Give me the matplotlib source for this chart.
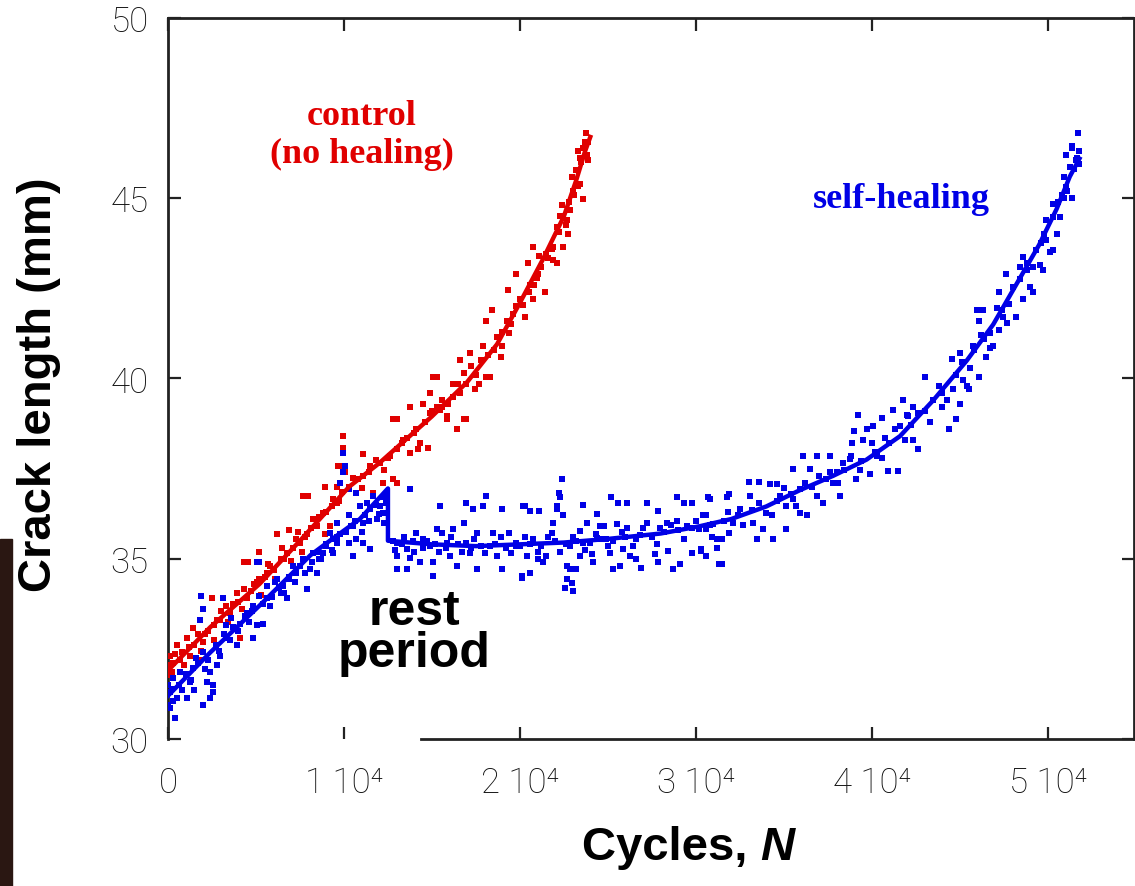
import matplotlib.pyplot as plt
from matplotlib.patches import Rectangle

# cycles are in thousands, crack length in mm
ctrl_pts = [
    (0.0, 32.04), (0.1, 32.3), (0.5, 32.6), (0.0, 31.77), (0.7, 32.2), (1.06, 32.8),
    (1.4, 33.07), (1.25, 32.3), (1.8, 32.2), (2.0, 32.7), (2.6, 33.15), (2.5, 33.9),
    (2.95, 33.3), (3.3, 33.7), (4.1, 32.8), (3.9, 34.06), (4.5, 33.9), (4.3, 34.17),
    (5.05, 34.35), (5.2, 34.45), (4.3, 34.9), (4.55, 34.9), (5.2, 35.2), (5.6, 34.6),
    (5.8, 34.8), (6.2, 35.7), (6.4, 35.0), (6.9, 35.8), (6.75, 35.17), (7.3, 35.55),
    (7.5, 35.44), (7.9, 35.7), (7.95, 36.74), (7.7, 36.74), (8.25, 36.1), (8.45, 35.9),
    (8.8, 36.27), (8.9, 37.0), (9.4, 36.65), (9.6, 37.0), (9.65, 37.57), (9.2, 35.9),
    (9.95, 38.4), (9.95, 38.07), (9.8, 37.57), (10.05, 37.4), (9.6, 36.55), (10.3, 37.0),
    (11.1, 37.9), (11.1, 37.3), (11.5, 37.57), (11.65, 36.82), (12.05, 37.65), (12.2, 37.1),
    (12.8, 37.2), (12.6, 37.85), (13.0, 38.04), (13.0, 38.87), (12.8, 38.87), (13.35, 38.3),
    (13.75, 37.93), (13.75, 39.2), (14.1, 38.6), (14.3, 38.2), (14.8, 38.07), (14.9, 39.03),
    (15.3, 39.2), (15.6, 39.4), (15.85, 38.87), (16.4, 38.6), (16.8, 38.87), (16.2, 39.86),
    (16.6, 39.6), (16.95, 39.86), (18.1, 40.05), (15.3, 40.05), (13.0, 37.1),
    (15.05, 40.05), (14.5, 39.3), (14.9, 39.6), (15.45, 39.14), (15.85, 38.95),
    (16.95, 38.87), (16.6, 40.5), (16.8, 40.15), (17.15, 40.7), (17.45, 39.7), (17.7, 39.86),
    (17.9, 40.9), (18.3, 40.05), (18.1, 41.6), (18.4, 41.9), (18.7, 41.16), (19.0, 40.9),
    (18.9, 40.6), (19.25, 41.6), (19.4, 41.25), (19.3, 42.46), (19.8, 42.0), (20.0, 42.2),
    (20.3, 41.7), (20.6, 42.6), (20.75, 42.2), (19.8, 42.9), (20.95, 42.8), (21.4, 42.4),
    (20.45, 43.2), (20.75, 43.65), (21.1, 43.4), (21.5, 43.45), (21.9, 43.3), (22.1, 43.2),
    (21.9, 43.65), (22.45, 43.65), (22.1, 44.2), (22.3, 44.5), (22.65, 44.4), (22.75, 44.0),
    (22.4, 44.8), (22.85, 44.67), (23.0, 45.2), (22.95, 45.58), (23.4, 45.4), (23.6, 44.97),
    (23.2, 45.77), (23.4, 46.13), (23.8, 46.2), (23.3, 46.3), (23.85, 46.55), (23.75, 46.8),
    (23.6, 46.4), (23.85, 46.05),
    (0.3, 32.1), (0.8, 32.4), (1.5, 32.6), (2.1, 32.9), (2.8, 33.3), (3.5, 33.5),
    (4.0, 33.8), (4.7, 34.1), (5.5, 34.5), (6.0, 34.7), (6.6, 35.0), (7.1, 35.3),
    (7.8, 35.6), (8.4, 35.9), (9.0, 36.3), (9.7, 36.6), (10.8, 37.2), (11.4, 37.4),
    (12.5, 37.8), (13.3, 38.2), (14.0, 38.5), (14.6, 38.8), (15.6, 39.2), (16.2, 39.5),
    (17.5, 40.1), (18.5, 40.8), (19.5, 41.5), (20.5, 42.4), (21.0, 42.9), (21.8, 43.6),
    (22.8, 44.9), (23.5, 46.0),
    (0.2, 31.85), (0.4, 32.35), (0.9, 32.05), (1.2, 32.55), (1.7, 32.9), (1.9, 32.45),
    (2.3, 33.0), (2.6, 32.75), (3.0, 33.55), (3.4, 33.25), (3.7, 33.75), (4.2, 33.6),
    (4.9, 34.3), (5.3, 34.0), (5.7, 34.85), (6.1, 34.45), (6.5, 35.3), (7.0, 34.95),
    (7.4, 35.75), (7.6, 35.2), (8.1, 35.85), (8.6, 36.15), (8.9, 35.7), (9.3, 36.45),
    (9.9, 36.85), (10.5, 37.25), (11.0, 36.95), (11.8, 37.75), (12.3, 37.45), (13.6, 38.35),
    (14.2, 38.05), (15.0, 39.1), (15.9, 39.3), (16.5, 39.85), (17.2, 40.35), (17.8, 40.5),
    (18.2, 40.65), (19.0, 41.3), (19.6, 41.8), (20.2, 42.05), (20.8, 42.6), (21.2, 43.1),
    (21.6, 43.35), (22.2, 44.05), (22.6, 44.25), (23.1, 45.1), (23.3, 45.35), (23.7, 46.55),
]

heal_pts = [
    # before the rest period
    (0.4, 30.58), (0.0, 30.94), (0.1, 31.3), (0.3, 31.68), (0.0, 31.5), (0.7, 31.85),
    (0.5, 31.13), (1.1, 31.13), (1.25, 31.57), (1.4, 31.96), (1.6, 32.24), (2.0, 32.4),
    (2.2, 31.57), (2.4, 31.13), (2.4, 31.85), (2.55, 31.3), (2.8, 32.04), (2.0, 33.6),
    (1.8, 33.3), (1.9, 33.97), (3.1, 33.9), (2.95, 32.3), (3.3, 32.8), (3.3, 33.15),
    (3.9, 32.6), (4.1, 33.2), (4.5, 33.5), (4.85, 32.8), (5.05, 33.15), (5.4, 33.2),
    (4.85, 33.7), (5.2, 33.97), (5.6, 34.25), (5.8, 33.7), (6.4, 34.06), (6.2, 34.45),
    (6.55, 34.25), (6.75, 33.9), (6.9, 34.45), (7.1, 34.8), (7.3, 34.6), (7.7, 35.0),
    (7.9, 34.17), (8.07, 34.72), (8.25, 35.17), (8.45, 34.6), (8.6, 35.0), (8.8, 35.17),
    (9.0, 35.36), (9.4, 35.55), (5.05, 34.9), (5.2, 34.9), (2.55, 31.5), (2.0, 30.94),
    (9.95, 37.93), (10.05, 37.57), (9.95, 37.4), (9.8, 37.1), (10.3, 36.93), (10.7, 36.82),
    (10.9, 36.46), (11.3, 36.55), (11.5, 36.38), (11.65, 36.74), (12.05, 36.46), (12.2, 36.27),
    (11.85, 36.1), (11.1, 35.99), (10.5, 35.9), (10.3, 36.2), (9.6, 35.99), (10.7, 35.55),
    (11.1, 35.44), (10.3, 35.44), (9.6, 35.44), (9.2, 35.72), (9.4, 35.17), (10.5, 35.08),
    (11.5, 35.27),
    (0.2, 31.4), (0.6, 31.5), (1.0, 31.8), (1.7, 32.1), (2.7, 32.6), (3.2, 32.9),
    (3.7, 33.1), (4.4, 33.4), (5.6, 33.9), (6.3, 34.2), (6.9, 34.5), (7.5, 34.8),
    (8.5, 35.2), (9.0, 35.4), (9.8, 35.7), (10.4, 35.9), (11.2, 36.2), (11.8, 36.5),
    (12.2, 36.7),
    (0.1, 30.85), (0.3, 31.05), (0.8, 31.35), (1.3, 31.65), (1.5, 31.35), (2.1, 31.95),
    (2.3, 32.2), (2.9, 32.45), (3.5, 32.75), (3.6, 33.35), (4.0, 33.0), (4.6, 33.25),
    (4.8, 33.55), (5.4, 33.75), (5.9, 33.95), (6.1, 34.35), (6.6, 34.05), (7.2, 34.35),
    (7.8, 34.6), (8.2, 34.9), (8.7, 35.0), (9.3, 35.25), (9.6, 35.6), (10.1, 35.75),
    (10.6, 36.05), (11.0, 35.75), (11.4, 36.05), (12.0, 36.25), (12.3, 36.0), (12.4, 36.55),
    # after the rest period
    (13.75, 36.93), (13.0, 35.44), (13.6, 35.27), (13.0, 35.08), (13.75, 35.03), (14.1, 35.72),
    (14.5, 35.55), (14.9, 35.36), (14.3, 34.9), (13.6, 34.72), (13.0, 34.72), (15.05, 34.9),
    (15.45, 36.46), (15.3, 35.83), (15.6, 35.72), (15.85, 35.44), (16.0, 35.08), (16.2, 35.83),
    (16.4, 34.8), (16.8, 35.99), (16.95, 36.55), (16.95, 35.44), (17.15, 35.17), (17.35, 36.38),
    (17.55, 35.72), (17.9, 36.46), (18.1, 36.74), (18.3, 35.36), (18.45, 35.72), (18.7, 35.08),
    (19.0, 36.38), (19.0, 34.72), (19.4, 35.72), (19.8, 35.36), (20.2, 36.46), (20.1, 34.53),
    (17.55, 34.72), (15.05, 34.53),
    (22.4, 37.2), (22.2, 36.82), (22.3, 36.7), (22.1, 36.46), (22.1, 36.38), (22.45, 36.2),
    (21.9, 36.0), (20.3, 36.46), (20.6, 36.33), (21.1, 36.33), (23.6, 36.5), (24.4, 36.25),
    (25.2, 36.7), (25.6, 36.55), (26.1, 36.55), (27.2, 36.55), (27.85, 36.33), (28.9, 36.7),
    (29.3, 36.55), (29.8, 36.55), (30.7, 36.7),
    (20.4, 35.08), (21.0, 35.0), (21.3, 34.9), (20.6, 34.6), (20.1, 34.47), (21.5, 35.08),
    (22.7, 34.8), (22.85, 34.72), (23.2, 34.72), (22.7, 34.45), (22.95, 34.34), (22.55, 34.2),
    (23.0, 34.1), (23.4, 35.08), (24.1, 35.14), (24.15, 34.9), (25.1, 35.17), (25.3, 34.72),
    (25.7, 34.8), (25.85, 35.27), (26.25, 35.08), (26.6, 35.0), (26.9, 34.75), (27.65, 35.14),
    (27.85, 34.9), (28.4, 35.22), (28.7, 34.72), (29.1, 34.86), (29.8, 35.17), (30.3, 35.22),
    (30.6, 35.08), (31.2, 35.55), (31.3, 34.86),
    (20.0, 35.36), (20.75, 35.55), (21.8, 35.72), (23.4, 35.77), (23.8, 35.99), (23.6, 35.44),
    (24.55, 35.9), (24.8, 35.9), (25.5, 35.97), (26.1, 35.86), (26.6, 35.55), (27.2, 35.99),
    (27.95, 35.86), (28.35, 35.99), (28.9, 36.05), (29.5, 35.9), (30.2, 35.83), (30.6, 36.2),
    (30.95, 35.97), (22.85, 35.36), (24.9, 35.55), (24.4, 35.58),
    (30.4, 36.2), (30.6, 35.83), (30.3, 35.27), (31.5, 34.86), (31.2, 35.3), (31.5, 35.55),
    (31.9, 35.72), (32.1, 35.99), (30.8, 36.65), (31.75, 36.7), (31.9, 36.8), (32.5, 36.38),
    (33.1, 36.74), (33.0, 37.13), (33.6, 37.13), (33.25, 35.99), (33.45, 35.55), (33.8, 35.83),
    (34.0, 36.27), (34.4, 35.55), (34.2, 37.07), (34.6, 37.07), (34.8, 36.74), (35.15, 35.83),
    (35.15, 36.46), (35.5, 37.49), (35.5, 36.65), (35.9, 36.27), (35.9, 36.93), (36.1, 37.85),
    (36.3, 36.2), (36.5, 37.49), (36.9, 37.85), (37.0, 37.3), (37.2, 36.55), (37.6, 37.85),
    (37.8, 37.1), (38.0, 37.4), (38.2, 36.74), (38.35, 37.65), (38.75, 37.76), (38.9, 38.2),
    (39.0, 38.54), (39.1, 37.2), (39.2, 39.0), (39.5, 38.3), (39.7, 38.6), (39.9, 37.35),
    (40.05, 38.68), (40.3, 37.85), (40.55, 38.9), (40.75, 38.35), (40.9, 37.43), (41.2, 39.14),
    (41.5, 37.43), (41.6, 38.68), (41.8, 39.4), (42.05, 38.95), (42.35, 39.2), (42.6, 38.04),
    (42.35, 38.3),
    (42.0, 39.0), (43.0, 40.05), (43.5, 39.4), (44.0, 39.2), (44.4, 38.6), (45.0, 39.3),
    (44.8, 38.87), (44.6, 39.7), (44.55, 40.55), (45.2, 39.97), (45.4, 39.8), (45.55, 39.7),
    (46.1, 40.05), (45.0, 40.7), (45.75, 40.9), (46.5, 40.6), (46.9, 40.9), (46.7, 41.25),
    (46.1, 41.6), (45.95, 41.9), (46.3, 41.9), (47.25, 41.35), (47.45, 41.7), (47.8, 42.07),
    (48.2, 41.7), (47.25, 42.4), (48.6, 42.2), (49.15, 42.4), (47.65, 42.9), (48.0, 42.54),
    (48.4, 43.1), (48.6, 43.37), (48.8, 43.2), (49.15, 43.1), (49.55, 43.15), (49.7, 43.0),
    (50.3, 43.56), (49.35, 43.56), (49.9, 43.84), (49.9, 44.4), (50.3, 44.47), (50.5, 44.0),
    (50.7, 44.47), (50.3, 44.84), (50.9, 45.0), (51.4, 45.0), (50.9, 45.58), (51.05, 45.3),
    (51.25, 45.86), (51.05, 46.2), (51.4, 46.4), (51.8, 46.3), (51.8, 45.94), (51.7, 46.8),
    (51.35, 46.46), (51.65, 46.13),
    (12.8, 35.5), (13.3, 35.4), (13.9, 35.5), (14.5, 35.3), (15.2, 35.4), (15.8, 35.3),
    (16.5, 35.4), (17.2, 35.3), (17.8, 35.35), (18.6, 35.4), (19.2, 35.3), (19.8, 35.45),
    (20.6, 35.4), (21.2, 35.35), (22.0, 35.5), (22.6, 35.4), (23.2, 35.5), (24.0, 35.45),
    (24.6, 35.55), (25.3, 35.5), (26.0, 35.6), (26.8, 35.65), (27.5, 35.6), (28.2, 35.75),
    (29.0, 35.8), (29.8, 35.85), (30.8, 35.95), (31.6, 36.05), (32.4, 36.2), (33.2, 36.35),
    (34.6, 36.6), (35.4, 36.8), (36.6, 37.0), (37.4, 37.2), (38.4, 37.45), (39.4, 37.7),
    (40.2, 37.95), (41.0, 38.2), (42.2, 38.7), (43.0, 39.1), (44.0, 39.6), (44.8, 40.1),
    (45.8, 40.8), (46.4, 41.1), (47.4, 41.9), (48.8, 43.0), (49.8, 44.0), (50.8, 45.1),
    (51.5, 45.8),
    (12.9, 35.25), (13.4, 35.6), (14.0, 35.2), (14.7, 35.5), (15.4, 35.2), (16.1, 35.6),
    (16.7, 35.2), (17.4, 35.55), (18.0, 35.15), (18.9, 35.6), (19.5, 35.15), (20.3, 35.6),
    (21.0, 35.2), (21.6, 35.6), (22.3, 35.2), (23.0, 35.6), (23.7, 35.25), (24.3, 35.7),
    (25.0, 35.35), (25.8, 35.75), (26.4, 35.35), (27.0, 35.85), (27.8, 35.4), (28.6, 35.95),
    (29.3, 35.55), (30.0, 36.05), (30.9, 35.6), (31.8, 36.3), (32.7, 35.95), (33.6, 36.55),
    (34.3, 36.2), (35.0, 36.95), (35.7, 36.45), (36.2, 37.1), (36.9, 36.75), (37.6, 37.4),
    (38.1, 37.1), (38.8, 37.85), (39.3, 37.45), (40.0, 38.2), (40.6, 37.8), (41.3, 38.6),
    (41.9, 38.3), (42.6, 39.05), (43.3, 38.8), (43.8, 39.8), (44.3, 39.4), (45.1, 40.45),
    (45.6, 40.3), (46.2, 41.2), (46.7, 40.85), (47.1, 41.95), (47.7, 41.55), (48.4, 42.75),
    (49.0, 42.55), (49.6, 43.75), (50.1, 43.5), (50.6, 44.9), (51.1, 45.2), (51.6, 46.05),
]

# smooth curves drawn through the data
ctrl_fit_n = [0, 2.4, 5.2, 7.5, 10.3, 12, 15, 17, 18.7, 20, 21.3, 22.5, 23.2, 23.7, 24.0]
ctrl_fit_len = [31.9, 33.1, 34.3, 35.5, 37.0, 37.65, 38.95, 39.9, 40.95, 42.1, 43.3, 44.5,
                45.5, 46.3, 46.7]
heal_fit_n = [0, 2.4, 5.2, 8.1, 9.2, 10.9, 12.5, 12.5, 15, 17.5, 20, 22.5, 25, 28, 30.2, 32,
              34, 35.9, 37.8, 39.7, 41.6, 43.5, 45.4, 46.9, 48.2, 49.5, 50.5, 51.25, 51.8]
heal_fit_len = [31.2, 32.4, 33.7, 35.1, 35.5, 36.1, 36.95, 35.5, 35.4, 35.35, 35.4, 35.45,
                35.55, 35.7, 35.9, 36.1, 36.45, 36.9, 37.3, 37.75, 38.4, 39.4, 40.5, 41.5,
                42.6, 43.7, 44.7, 45.6, 46.1]

x_ticks = [0, 10000, 20000, 30000, 40000, 50000]
x_labels = ["0", "1 10⁴", "2 10⁴", "3 10⁴", "4 10⁴", "5 10⁴"]
y_ticks = [30, 35, 40, 45, 50]

RED = '#e00000'
BLUE = '#0000e6'
tick_font = ['Roboto', 'DejaVu Sans']

fig = plt.figure(figsize=(11.35, 8.87), dpi=100)
ax = fig.add_axes([168 / 1135, 1 - 740 / 887, (1134 - 168) / 1135, (740 - 19) / 887])

ax.plot([p[0] * 1000 for p in ctrl_pts], [p[1] for p in ctrl_pts], 's', color=RED,
        ms=5, mew=0, zorder=3)
ax.plot([p[0] * 1000 for p in heal_pts], [p[1] for p in heal_pts], 's', color=BLUE,
        ms=5, mew=0, zorder=3)
ax.plot([n * 1000 for n in ctrl_fit_n], ctrl_fit_len, '-', color=RED, lw=3.2, zorder=4)
ax.plot([n * 1000 for n in heal_fit_n], heal_fit_len, '-', color=BLUE, lw=3.2, zorder=4)

ax.set_xlim(0, 54900)
ax.set_ylim(30, 50)
ax.set_xticks(x_ticks)
ax.set_xticklabels(x_labels, family=tick_font, weight='light', fontsize=25, color='#111111')
ax.set_yticks(y_ticks)
ax.set_yticklabels([str(v) for v in y_ticks], family=tick_font, weight='light', fontsize=25,
                   color='#111111')
ax.tick_params(direction='in', length=9, width=1.6, top=True, right=True, color='#222222')
ax.tick_params(axis='x', pad=19)
ax.tick_params(axis='y', pad=14)
for s in ax.spines.values():
    s.set_linewidth(2)
    s.set_color('#222222')
ax.spines['bottom'].set_bounds(14375, 54900)

ax.text(11000, 47.3, "control", color=RED, family='Liberation Serif', weight='bold',
        fontsize=26, ha='center', va='center')
ax.text(11000, 46.25, "(no healing)", color=RED, family='Liberation Serif', weight='bold',
        fontsize=26, ha='center', va='center')
ax.text(41700, 45.0, "self-healing", color=BLUE, family='Liberation Serif', weight='bold',
        fontsize=26, ha='center', va='center')

# white patch with the "rest period" label
fig.patches.append(Rectangle((314 / 1135, 1 - 690 / 887), 206 / 1135, 105 / 887,
                             transform=fig.transFigure, color='white', zorder=5))
fig.text(414 / 1135, 1 - 612 / 887, "rest", family='Liberation Sans', weight='bold',
         fontsize=36, ha='center', va='center', zorder=6)
fig.text(414 / 1135, 1 - 654 / 887, "period", family='Liberation Sans', weight='bold',
         fontsize=36, ha='center', va='center', zorder=6)

# strip of dark photo at the left edge
fig.patches.append(Rectangle((0, 0), 12 / 1135, 1 - 540 / 887, transform=fig.transFigure,
                             color='#2a1712', zorder=1))

fig.text(39 / 1135, 1 - 385 / 887, "Crack length (mm)", family='Liberation Sans',
         weight='bold', fontsize=34, rotation=90, ha='center', va='center')
fig.text(760 / 1135, 1 - 848 / 887, "Cycles, ", family='Liberation Sans', weight='bold',
         fontsize=34, ha='right', va='center')
fig.text(760 / 1135, 1 - 848 / 887, "N", family='Liberation Sans', weight='bold',
         style='italic', fontsize=34, ha='left', va='center')

fig.savefig('out.png', dpi=100)
